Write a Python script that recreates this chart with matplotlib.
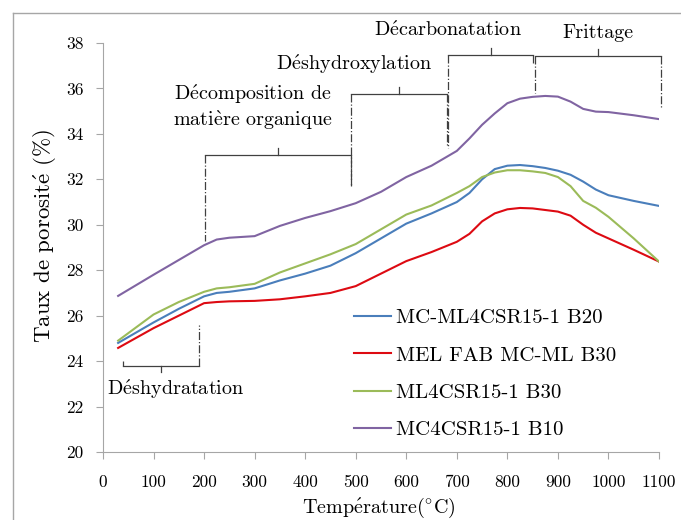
import matplotlib
matplotlib.use("Agg")
import matplotlib.pyplot as plt
from matplotlib.lines import Line2D

plt.rcParams['font.family'] = ['cmr10', 'DejaVu Serif']
plt.rcParams['mathtext.fontset'] = 'cm'
plt.rcParams['axes.unicode_minus'] = False
plt.rcParams['axes.formatter.use_mathtext'] = False

# cmr10 has no accented letters, so these go through mathtext (same CM face)
EA = r'$\mathrm{\acute{e}}$'
EG = r'$\mathrm{\grave{e}}$'
DEG = r'$^{\circ}$'

# temperature (°C) and porosity (%)
temp = [30, 100, 150, 200, 225, 250, 300, 350, 400, 450, 500, 550, 600, 650, 700,
        725, 750, 775, 800, 825, 850, 875, 900, 925, 950, 975, 1000, 1050, 1100]

mc_ml4csr_b20 = [24.8, 25.7, 26.3, 26.85, 27.0, 27.05, 27.2, 27.55, 27.85, 28.2, 28.75,
                 29.4, 30.05, 30.5, 31.0, 31.4, 32.0, 32.45, 32.6, 32.63, 32.58, 32.5,
                 32.38, 32.2, 31.9, 31.55, 31.3, 31.05, 30.83]
mel_fab_b30 = [24.58, 25.45, 26.0, 26.55, 26.6, 26.63, 26.65, 26.72, 26.85, 27.0, 27.3,
               27.85, 28.4, 28.8, 29.25, 29.6, 30.15, 30.5, 30.68, 30.74, 30.72, 30.65,
               30.58, 30.4, 30.0, 29.65, 29.4, 28.9, 28.38]
ml4csr_b30 = [24.9, 26.05, 26.6, 27.05, 27.2, 27.25, 27.4, 27.9, 28.3, 28.7, 29.15,
              29.8, 30.45, 30.85, 31.4, 31.7, 32.1, 32.3, 32.4, 32.4, 32.35, 32.28,
              32.1, 31.7, 31.05, 30.75, 30.35, 29.4, 28.38]
mc4csr_b10 = [26.87, 27.8, 28.45, 29.1, 29.35, 29.43, 29.5, 29.95, 30.3, 30.6, 30.95,
              31.45, 32.1, 32.6, 33.25, 33.8, 34.4, 34.9, 35.35, 35.55, 35.63, 35.67,
              35.64, 35.42, 35.1, 34.98, 34.96, 34.82, 34.65]

series = [
    ('MC-ML4CSR15-1 B20', mc_ml4csr_b20, '#4a7ebb'),
    ('MEL FAB MC-ML B30', mel_fab_b30, '#dd0a12'),
    ('ML4CSR15-1 B30', ml4csr_b30, '#9bbb59'),
    ('MC4CSR15-1 B10', mc4csr_b10, '#8064a2'),
]

fig = plt.figure(figsize=(6.81, 5.2), dpi=100)
ax = fig.add_axes([0.1512, 0.1308, 0.8165, 0.7865])

for name, vals, col in series:
    ax.plot(temp, vals, color=col, lw=1.5, label=name)

ax.set_xlim(0, 1100)
ax.set_ylim(20, 38)
ax.set_xticks(range(0, 1101, 100))
ax.set_yticks(range(20, 39, 2))
for s in ['top', 'right']:
    ax.spines[s].set_visible(False)
for s in ['left', 'bottom']:
    ax.spines[s].set_color('#a6a6a6')
ax.tick_params(axis='both', color='#a6a6a6', length=5, labelsize=12.5)
ax.tick_params(axis='x', pad=11)
ax.tick_params(axis='y', pad=9)

ax.set_xlabel('Temp' + EA + 'rature(' + DEG + 'C)', fontsize=14.5, va='center')
ax.set_ylabel('Taux de porosit' + EA + ' (%)', fontsize=16.5, va='center')
ax.xaxis.set_label_coords(0.496, -0.138)
ax.yaxis.set_label_coords(-0.104, 0.528)

ax.legend(loc='upper left', bbox_to_anchor=(0.451, 0.35), frameon=False, fontsize=15,
          borderpad=0, borderaxespad=0, handlelength=1.8, handletextpad=0.25,
          labelspacing=0.9)

# phase brackets: x0, x1, bar height, left end, right end, which way the middle tick goes
bk = '#404040'
brackets = [
    (40, 190, 23.8, 24.0, 25.6, 'down'),
    (202, 491, 33.07, 29.3, 31.7, 'up'),
    (491, 680, 35.76, 31.75, 33.5, 'up'),
    (683, 851, 37.47, 33.4, 37.1, 'up'),
    (855, 1103, 37.43, 35.8, 35.14, 'up'),
]
for x0, x1, yb, yl, yr, d in brackets:
    ax.plot([x0, x1], [yb, yb], color=bk, lw=0.9, clip_on=False)
    ax.plot([x0, x0], [yb, yl], color=bk, lw=0.9, ls='-.', clip_on=False)
    ax.plot([x1, x1], [yb, yr], color=bk, lw=0.9, ls='-.', clip_on=False)
    xm = (x0 + x1) / 2
    dy = -0.3 if d == 'down' else 0.3
    ax.plot([xm, xm], [yb, yb + dy], color=bk, lw=0.9, clip_on=False)

labels = [
    ('D' + EA + 'shydratation', 144, 22.77),
    ('D' + EA + 'composition de\nmati' + EG + 're organique', 297, 35.16),
    ('D' + EA + 'shydroxylation', 497, 37.08),
    ('D' + EA + 'carbonatation', 683, 38.57),
    ('Frittage', 980, 38.44),
]
for txt, lx, ly in labels:
    ax.text(lx, ly, txt, ha='center', va='center', fontsize=14.5, linespacing=1.15,
            clip_on=False)

# frame round the figure
fig.add_artist(Line2D([13 / 681, 13 / 681], [0, 1 - 13 / 520], color='#a6a6a6', lw=1))
fig.add_artist(Line2D([13 / 681, 1], [1 - 13 / 520, 1 - 13 / 520], color='#a6a6a6', lw=1))

fig.savefig('out.png', dpi=100)
